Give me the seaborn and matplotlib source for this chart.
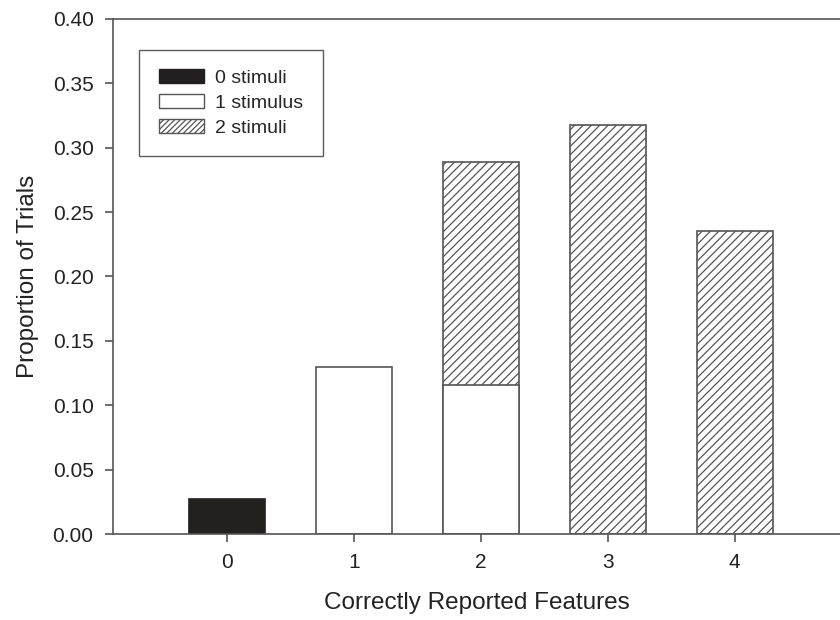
import matplotlib
matplotlib.use("Agg")
import matplotlib.pyplot as plt
import seaborn as sns
import pandas as pd
from matplotlib.patches import Patch

# data
features = [0, 1, 2, 3, 4]
zero_x = [0]
zero_y = [0.027]
one_x = [1, 2]
one_y = [0.130, 0.116]
# two-stimuli bars drawn as totals (stacked on top of the 1-stimulus part at x=2)
two_x = [2, 3, 4]
two_total = [0.289, 0.318, 0.235]

sns.set_theme(style="ticks")
plt.rcParams["font.family"] = ["Liberation Sans", "DejaVu Sans"]
plt.rcParams["hatch.linewidth"] = 0.9
plt.rcParams["hatch.color"] = "#333333"

edge = "#555555"
fig = plt.figure(figsize=(8.4, 6.2), dpi=100)
ax = fig.add_axes([0.1345, 0.1387, 0.8655, 0.8307])

df2 = pd.DataFrame({"x": two_x, "y": two_total})
sns.barplot(data=df2, x="x", y="y", order=features, width=0.6, color="white",
            edgecolor=edge, linewidth=1.2, hatch="////", ax=ax)
df1 = pd.DataFrame({"x": one_x, "y": one_y})
sns.barplot(data=df1, x="x", y="y", order=features, width=0.6, color="white",
            edgecolor=edge, linewidth=1.2, ax=ax)
df0 = pd.DataFrame({"x": zero_x, "y": zero_y})
sns.barplot(data=df0, x="x", y="y", order=features, width=0.6, color="#231f20",
            edgecolor="#231f20", linewidth=1.2, ax=ax)
for p in ax.patches:
    p.set_facecolor(p.get_facecolor()[:3] + (1.0,))

ax.set_xlim(-0.9, 4.83)
ax.set_ylim(0, 0.40)
ax.set_yticks([0, 0.05, 0.10, 0.15, 0.20, 0.25, 0.30, 0.35, 0.40])
ax.set_yticklabels([f"{v:.2f}" for v in ax.get_yticks()])

for side in ["left", "bottom", "top"]:
    ax.spines[side].set_color(edge)
    ax.spines[side].set_linewidth(1.2)
ax.spines["right"].set_visible(False)
ax.tick_params(axis="both", direction="out", length=6, width=1.2, color=edge,
               labelsize=15, labelcolor="#222222", pad=8)

ax.set_xlabel("Correctly Reported Features", fontsize=17.5, color="#222222", labelpad=14)
ax.set_ylabel("Proportion of Trials", fontsize=17.5, color="#222222", labelpad=10)

handles = [
    Patch(facecolor="#231f20", edgecolor="#231f20", label="0 stimuli"),
    Patch(facecolor="white", edgecolor=edge, label="1 stimulus"),
    Patch(facecolor="white", edgecolor=edge, hatch="//////", label="2 stimuli"),
]
leg = ax.legend(handles=handles, loc="upper left", bbox_to_anchor=(0.036, 0.94),
                borderaxespad=0, fancybox=False, fontsize=14, frameon=True,
                handlelength=2.35, handleheight=0.7, labelspacing=0.38,
                handletextpad=0.55, borderpad=1.0)
leg.get_frame().set_edgecolor("#333333")
leg.get_frame().set_linewidth(1.0)

fig.savefig("out.png", dpi=100)
